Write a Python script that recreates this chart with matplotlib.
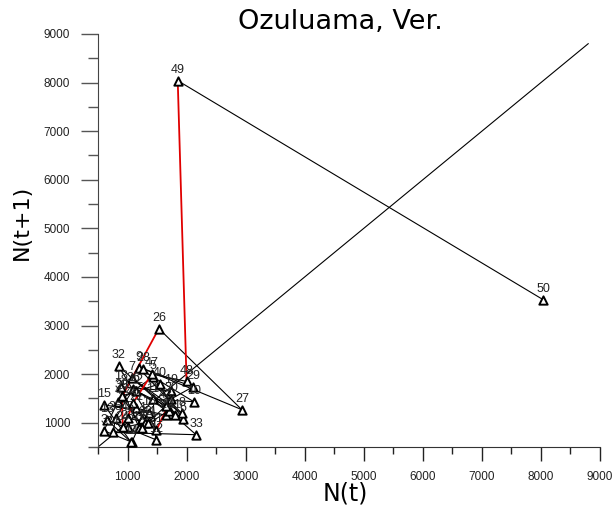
import matplotlib
matplotlib.use("Agg")
import matplotlib.pyplot as plt
from matplotlib.ticker import MultipleLocator

# Yearly counts N(1..51); each plotted point k is (N[k], N[k+1])
counts = [1250, 1073, 600, 836, 1430, 1940, 1073, 1920, 1190, 2120,
          1433, 1480, 650, 1060, 600, 1370, 1200, 888, 1740, 1650,
          1150, 1300, 1000, 920, 903, 1530, 2936, 1268, 2110, 1740,
          1490, 853, 2160, 753, 800, 1100, 1700, 1250, 900, 1550,
          1800, 1150, 1650, 1350, 1000, 1095, 1410, 2000, 1850, 8040,
          3530]
n_t = counts[:-1]
n_t1 = counts[1:]
point_labels = [str(i + 1) for i in range(len(n_t))]

# segments k -> k+1 drawn in red (1-based index of the starting point)
red_segments = [24, 25, 30, 45, 46, 48]

diag = [500, 8800]

fig = plt.figure(figsize=(6.16, 5.12), dpi=100)
W, H = 616, 512
ax = fig.add_axes([98 / W, (H - 447) / H, (600 - 98) / W, (447 - 34) / H])

ax.plot(diag, diag, color="black", lw=0.8)

for k in range(len(n_t) - 1):
    col = "#e00000" if (k + 1) in red_segments else "black"
    lw = 1.3 if col != "black" else 0.8
    ax.plot(n_t[k:k + 2], n_t1[k:k + 2], color=col, lw=lw, zorder=2)

ax.scatter(n_t, n_t1, marker="^", s=36, facecolors="white",
           edgecolors="black", linewidths=1.4, zorder=3)

for x, y, lab in zip(n_t, n_t1, point_labels):
    ax.annotate(lab, (x, y), xytext=(0, 3.5), textcoords="offset points",
                ha="center", va="bottom", fontsize=9,
                family="Liberation Sans", color="#222222", zorder=4)

ax.set_xlim(500, 9000)
ax.set_ylim(500, 9000)
for s in ("top", "right"):
    ax.spines[s].set_visible(False)
ax.spines["left"].set_color("#444444")
ax.spines["bottom"].set_color("#333333")

ax.xaxis.set_minor_locator(MultipleLocator(500))
ax.yaxis.set_minor_locator(MultipleLocator(500))
ax.set_xticks(range(1000, 9001, 1000))
ax.set_yticks(range(1000, 9001, 1000))
ax.tick_params(axis="x", which="major", length=10, width=1, pad=7,
               labelsize=8.5, color="#222222")
ax.tick_params(axis="x", which="minor", length=5, width=1, color="#222222")
ax.tick_params(axis="y", which="major", length=12, width=1, pad=8,
               labelsize=8.5, color="#555555")
ax.tick_params(axis="y", which="minor", length=7, width=1, color="#555555")
for t in ax.get_xticklabels() + ax.get_yticklabels():
    t.set_family("Liberation Sans")
    t.set_color("#222222")

fig.text(340 / W, 1 - 22 / H, "Ozuluama, Ver.", ha="center", va="center",
         fontsize=19.5, family="DejaVu Sans")
fig.text(345 / W, 1 - 493 / H, "N(t)", ha="center", va="center",
         fontsize=17, family="DejaVu Sans")
fig.text(22 / W, 1 - 222 / H, "N(t+1)", ha="center", va="center",
         fontsize=16, family="DejaVu Sans", rotation=90)

fig.savefig("out.png", dpi=100)
